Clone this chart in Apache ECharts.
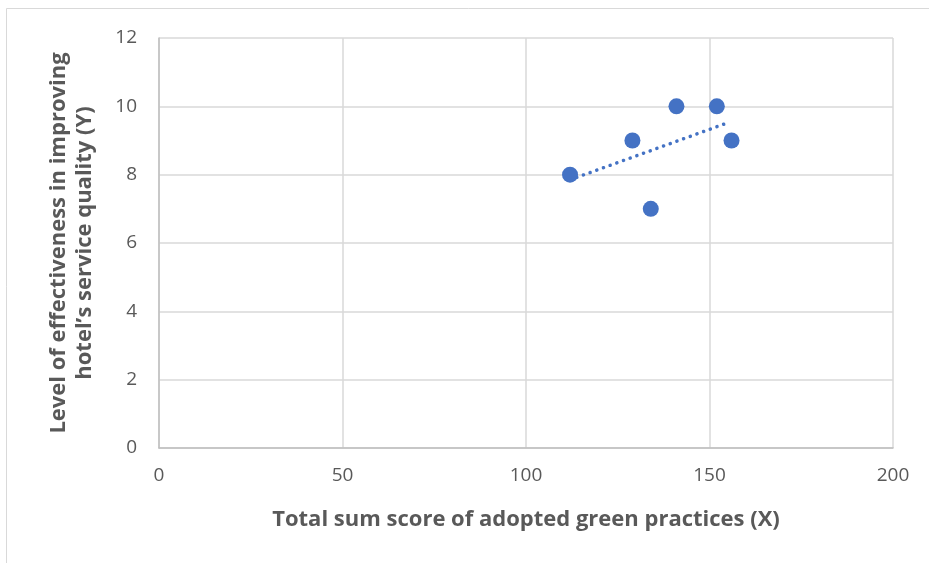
<!DOCTYPE html>
<html><head><meta charset="utf-8">
<script src="https://cdn.jsdelivr.net/npm/echarts@6/dist/echarts.min.js"></script>
<style>html,body{margin:0;padding:0;background:#fff}#c{width:929px;height:563px}</style>
</head><body><div id="c"></div>
<script>
const xValues = [112, 129, 134, 141, 152, 156];
const yValues = [8, 9, 7, 10, 10, 9];
const trendX = [112, 155];
const trendY = [7.85, 9.52];
const xTitle = 'Total sum score of adopted green practices (X)';
const yTitle = 'Level of effectiveness in improving\nhotel\u2019s service quality (Y)';

const font = '"Open Sans", "Liberation Sans", sans-serif';
const chart = echarts.init(document.getElementById('c'));
chart.setOption({
  animation: false,
  backgroundColor: '#fff',
  graphic: [{
    type: 'rect', shape: {x: 6.5, y: 8.5, width: 940, height: 580},
    style: {fill: 'none', stroke: '#d9d9d9', lineWidth: 1}, silent: true, z: -1
  }],
  grid: {left: 159, top: 38, right: 36, bottom: 115, containLabel: false},
  xAxis: {
    type: 'value', min: 0, max: 200, interval: 50,
    name: xTitle, nameLocation: 'middle', nameGap: 61,
    nameTextStyle: {fontFamily: font, fontSize: 22, fontWeight: 'bold', color: '#595959'},
    axisLine: {show: true, lineStyle: {color: '#bfbfbf', width: 1.5}},
    axisTick: {show: false},
    axisLabel: {fontFamily: font, fontSize: 19, color: '#595959', margin: 18},
    splitLine: {show: true, lineStyle: {color: '#d9d9d9', width: 1.5}}
  },
  yAxis: {
    type: 'value', min: 0, max: 12, interval: 2,
    name: yTitle, nameLocation: 'middle', nameGap: 61, nameRotate: 90,
    nameTextStyle: {fontFamily: font, fontSize: 22, fontWeight: 'bold', color: '#595959', lineHeight: 26},
    axisLine: {show: true, lineStyle: {color: '#bfbfbf', width: 1.5}},
    axisTick: {show: false},
    axisLabel: {fontFamily: font, fontSize: 19, color: '#595959', margin: 22},
    splitLine: {show: true, lineStyle: {color: '#d9d9d9', width: 1.5}}
  },
  series: [{
    type: 'line',
    data: trendX.map((x, i) => [x, trendY[i]]),
    showSymbol: false, symbol: 'none',
    lineStyle: {color: '#4472C4', width: 3.5, type: [0.1, 7], cap: 'round'},
    z: 1
  }, {
    type: 'scatter',
    data: xValues.map((x, i) => [x, yValues[i]]),
    symbolSize: 16,
    itemStyle: {color: '#4472C4', opacity: 1},
    z: 2
  }]
});
</script></body></html>
